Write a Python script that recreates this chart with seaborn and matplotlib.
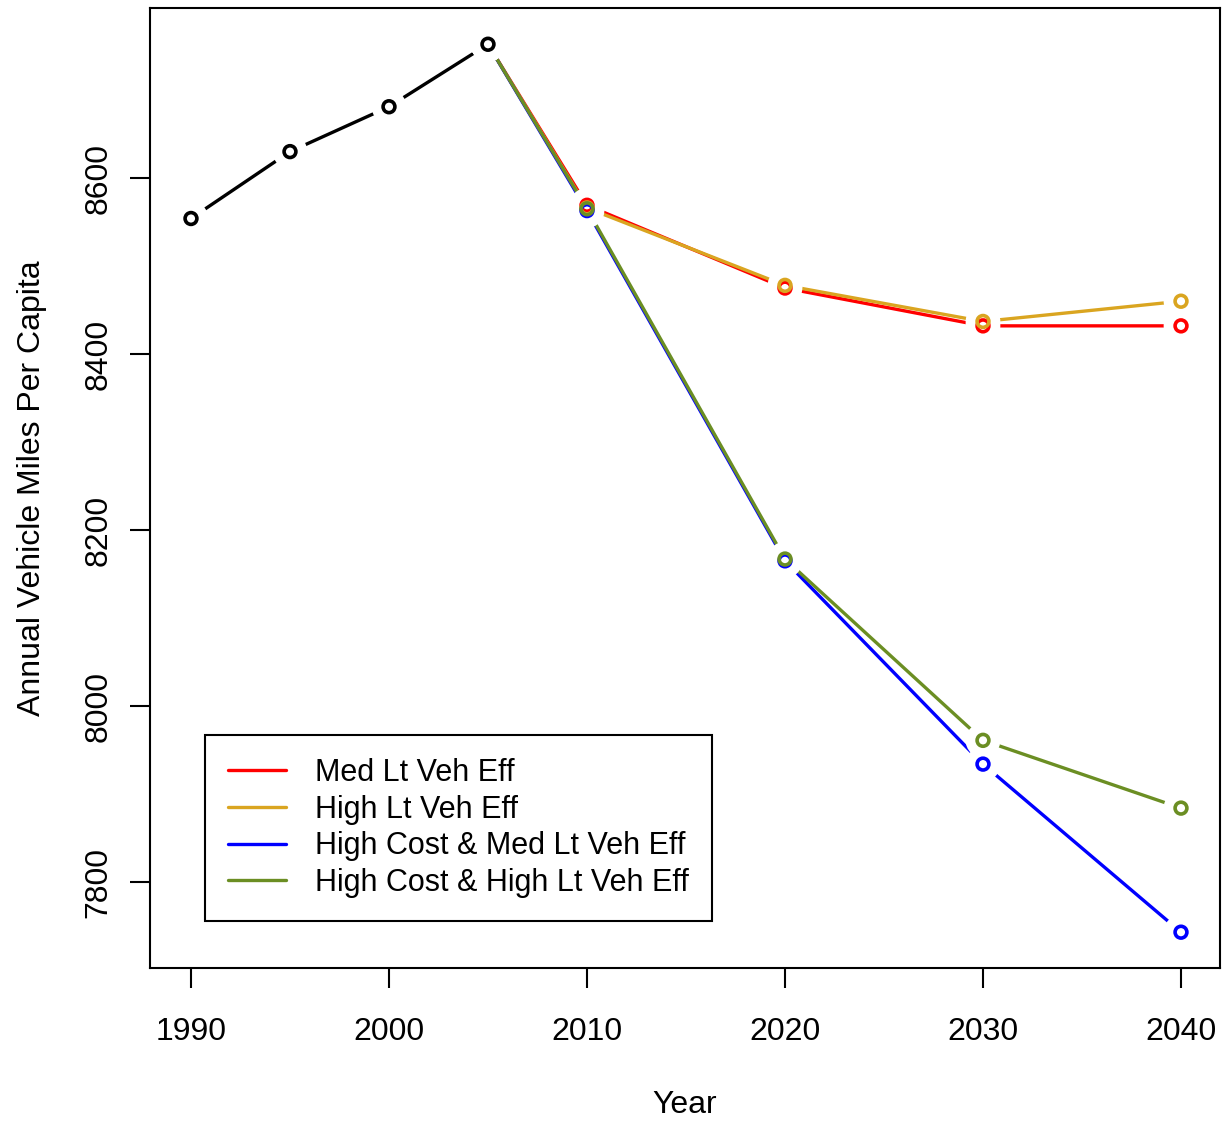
import numpy as np
import pandas as pd
import matplotlib
matplotlib.use("Agg")
import matplotlib.pyplot as plt
import seaborn as sns
from matplotlib.lines import Line2D

# ---- data ----
hist_years = [1990, 1995, 2000, 2005]
hist_vmt = [8554, 8630, 8681, 8752]

proj_years = [2005, 2010, 2020, 2030, 2040]
med_lt_veh_eff = [8752, 8569, 8475, 8432, 8432]
high_lt_veh_eff = [8752, 8566, 8478, 8437, 8460]
high_cost_med_lt_veh_eff = [8752, 8563, 8165, 7934, 7743]
high_cost_high_lt_veh_eff = [8752, 8565, 8167, 7961, 7884]

scenario_names = ["Med Lt Veh Eff", "High Lt Veh Eff",
                  "High Cost & Med Lt Veh Eff", "High Cost & High Lt Veh Eff"]
scenario_colors = ["#FF0000", "#DAA520", "#0000FF", "#6B8E23"]
x_ticks = [1990, 2000, 2010, 2020, 2030, 2040]
y_ticks = [7800, 8000, 8200, 8400, 8600]

sns.set_theme(style="white")
plt.rcParams['font.family'] = ['Liberation Sans', 'DejaVu Sans']
plt.rcParams['text.color'] = 'black'
plt.rcParams['axes.labelcolor'] = 'black'
plt.rcParams['xtick.color'] = 'black'
plt.rcParams['ytick.color'] = 'black'

rows = []
for name, vals in zip(scenario_names,
                      [med_lt_veh_eff, high_lt_veh_eff,
                       high_cost_med_lt_veh_eff, high_cost_high_lt_veh_eff]):
    for y, v in zip(proj_years, vals):
        rows.append({"Year": y, "VMT": v, "Scenario": name})
df = pd.DataFrame(rows)
hist = pd.DataFrame({"Year": hist_years, "VMT": hist_vmt})

fig = plt.figure(figsize=(12.24, 11.21), dpi=100)
ax = fig.add_axes([150/1224, 1 - 968/1121, 1070/1224, 960/1121])

lw = 2.4
fs = 23
sns.lineplot(data=df, x="Year", y="VMT", hue="Scenario", hue_order=scenario_names,
             palette=scenario_colors, linewidth=lw, ax=ax, legend=False, zorder=2)
sns.lineplot(data=hist, x="Year", y="VMT", color="black", linewidth=lw, ax=ax,
             legend=False, zorder=2)

# gaps around points (R type = "b")
all_x = list(df["Year"]) + hist_years
all_y = list(df["VMT"]) + hist_vmt
ax.scatter(all_x, all_y, s=25**2, color="white", edgecolors="none", zorder=3)

for name, col in zip(scenario_names, scenario_colors):
    sub = df[df["Scenario"] == name]
    sub = sub[sub["Year"] > 2005]
    ax.scatter(sub["Year"], sub["VMT"], s=8.5**2, facecolors="none",
               edgecolors=col, linewidths=2.6, zorder=4)
ax.scatter(hist["Year"], hist["VMT"], s=8.5**2, facecolors="none",
           edgecolors="black", linewidths=2.6, zorder=5)

ax.set_xlim(1987.93, 2041.97)
ax.set_ylim(7702.3, 8793.2)
ax.set_xticks(x_ticks)
ax.set_xticklabels([str(t) for t in x_ticks])
ax.set_yticks(y_ticks)
ax.set_yticklabels([str(t) for t in y_ticks], rotation=90, va="center")

for s in ax.spines.values():
    s.set_visible(True)
    s.set_color("black")
    s.set_linewidth(1.5)

ax.tick_params(axis="both", which="major", length=14.4, width=1.5, color="black",
               labelsize=fs, labelcolor="black", direction="out", bottom=True, left=True)
ax.tick_params(axis="x", pad=21)
ax.tick_params(axis="y", pad=12)

ax.set_xlabel("Year", fontsize=fs, labelpad=31, color="black")
ax.set_ylabel("Annual Vehicle Miles Per Capita", fontsize=fs, labelpad=26, color="black")

handles = [Line2D([0], [0], color=c, linewidth=lw) for c in scenario_colors]
leg = ax.legend(handles, scenario_names, loc="upper left",
                bbox_to_anchor=(55/1070, (968-735)/960), borderaxespad=0,
                fontsize=22, frameon=True, fancybox=False, framealpha=1,
                edgecolor="black", handlelength=1.9, handletextpad=0.95,
                labelspacing=0.22, borderpad=0.75)
leg.get_frame().set_linewidth(1.5)
for t in leg.get_texts():
    t.set_color("black")

fig.savefig("out.png", dpi=100, facecolor="white")
